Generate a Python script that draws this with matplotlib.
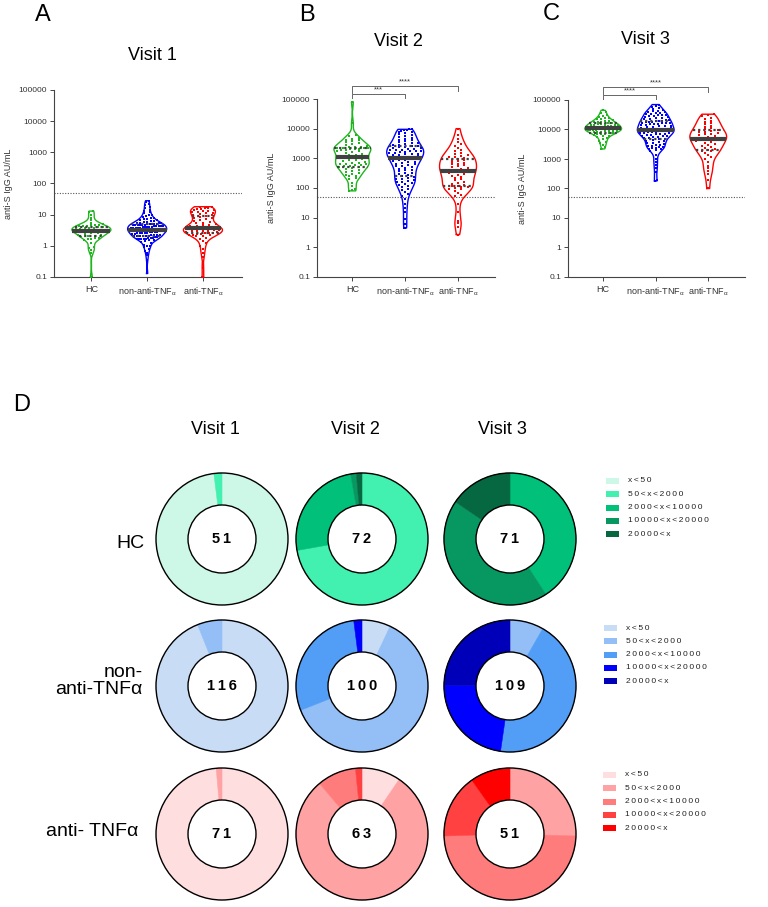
import numpy as np
import matplotlib
matplotlib.use('Agg')
import matplotlib.pyplot as plt
from matplotlib.patches import Rectangle, Circle

plt.rcParams['font.family'] = ['Liberation Sans', 'DejaVu Sans']
plt.rcParams['mathtext.fontset'] = 'custom'
plt.rcParams['mathtext.rm'] = 'Liberation Sans'
plt.rcParams['mathtext.it'] = 'Liberation Sans'

# ---------------- data ----------------
groups = ['HC', 'non-anti-TNFα', 'anti-TNFα']
tick_labels = ['HC', r'non-anti-TNF$_{\alpha}$', r'anti-TNF$_{\alpha}$']
visits = ['Visit 1', 'Visit 2', 'Visit 3']
y_ticks = [0.1, 1, 10, 100, 1000, 10000, 100000]
y_tick_labels = ['0.1', '1', '10', '100', '1000', '10000', '100000']
cutoff = 50

v1_hc = [0.10, 0.60, 0.75, 0.85, 0.95, 1.2, 1.5, 1.6, 1.7, 1.8, 1.8, 1.9, 2.0, 2.1, 2.2, 2.3, 2.4,
         2.5, 2.6, 2.7, 2.8, 2.9, 2.9, 3.0, 3.0, 3.0, 3.1, 3.1, 3.2, 3.3, 3.4, 3.5, 3.6, 3.7, 3.8,
         3.9, 4.0, 4.1, 4.2, 4.3, 4.4, 4.5, 4.6, 4.8, 5.0, 5.5, 6.5, 8.0, 10, 12, 13]
v1_non = [0.13, 0.35, 0.5, 0.6, 0.7, 0.8, 0.9, 1.0, 1.0, 1.1,
          1.2, 1.3, 1.4, 1.5, 1.5, 1.6, 1.6, 1.7, 1.7, 1.8, 1.8, 1.8, 1.9, 1.9, 2.0, 2.0, 2.0, 2.1, 2.1, 2.2,
          2.2, 2.3, 2.3, 2.4, 2.4, 2.5, 2.5, 2.6, 2.6, 2.7, 2.7, 2.8, 2.8, 2.9, 2.9, 3.0, 3.0, 3.0, 3.1, 3.1,
          3.2, 3.2, 3.3, 3.3, 3.4, 3.5, 3.5, 3.6, 3.7, 3.8, 3.9, 4.0, 4.1, 4.2, 4.3, 4.4, 4.5, 4.6, 4.7, 4.8,
          4.9, 5.0, 5.1, 5.2, 5.3, 5.4, 5.5, 5.6, 5.8, 6.0, 6.2, 6.4, 6.6, 6.8, 7.0, 7.3, 7.6, 8.0, 8.5, 9.0,
          9.5, 10, 11, 12, 13, 14, 16, 18, 20, 22, 25, 28,
          2.0, 2.5, 3.0, 3.3, 1.7, 4.0, 3.6, 3.8, 4.0, 4.2, 4.4, 4.6, 4.8, 5.0]
v1_anti = [0.1, 0.2, 0.45, 0.6, 0.8, 1.0, 1.2, 1.4, 1.6, 1.8,
           2.0, 2.1, 2.2, 2.3, 2.3, 2.4, 2.4, 2.5, 2.5, 2.6, 2.7, 2.8, 2.9, 3.0, 3.0, 3.1, 3.2, 3.3, 3.4, 3.5,
           3.5, 3.6, 3.6, 3.7, 3.8, 3.9, 4.0, 4.2, 4.4, 4.6, 4.8, 5.0, 5.3, 5.6, 6.0, 6.4, 6.8, 7.2, 7.6, 8.0,
           8.5, 9.0, 9.5, 10, 10.5, 11, 11.5, 12, 12.5, 13, 13.5, 14, 14.5, 15, 15.5, 16, 16.5, 17, 18, 18, 3.4]

v2_hc = [80, 85, 90, 120, 150, 200, 220, 250, 260, 280,
         300, 320, 350, 380, 400, 430, 460, 500, 520, 550,
         560, 580, 600, 620, 640, 660, 680, 700, 750, 800,
         850, 900, 950, 1000, 1000, 1050, 1100, 1150, 1200, 1250,
         1300, 1400, 1500, 1600, 1700, 1800, 1900, 1950, 2000, 2050,
         2100, 2150, 2200, 2250, 2300, 2350, 2400, 2500, 2600, 2800,
         3000, 3200, 3500, 3800, 4000, 4200, 4500, 5000, 5500, 6000,
         15000, 80000]
v2_non = [4.5, 6, 9, 15, 22, 30, 42,
          55, 65, 75, 85, 95, 105, 115, 125, 135, 145, 155, 165, 175, 185, 195, 205, 215, 230, 250, 270,
          290, 310, 330, 360, 390, 420, 450, 480, 510, 540, 570, 600, 630, 660, 700, 740, 780, 820, 860, 900,
          940, 980, 1020, 1060, 1100, 1150, 1200, 1250, 1300, 1350, 1400, 1450, 1500, 1550, 1600, 1650, 1700,
          1750, 1800, 1850, 1900, 1950,
          2000, 2100, 2200, 2300, 2400, 2500, 2600, 2700, 2800, 2900, 3000, 3200, 3400, 3600, 3800, 4000,
          4300, 4600, 5000, 5400, 5800, 6200, 6600, 7000, 7500, 8000, 8500, 9000, 9200, 9400, 9500]
v2_anti = [2.7, 5, 6.5, 8, 15, 30,
           55, 60, 70, 80, 90, 95, 100, 105, 110, 115, 120, 130, 140, 150, 165, 180, 200, 220, 240, 260,
           280, 300, 320, 340, 360, 380, 400, 420, 440, 470, 500, 540, 580, 620, 660, 700, 750, 800, 850, 900,
           950, 1000, 1100, 1150, 1200, 1300, 1400, 1500, 1700, 1900,
           2200, 2600, 3000, 3500, 4500, 6000, 10000]

v3_hc = [2200, 2600, 3000, 3400, 3800, 4200, 4600, 5000, 5400, 5800, 6200, 6500, 6800, 7000, 7200, 7400,
         7600, 7800, 8000, 8200, 8400, 8600, 8800, 9000, 9200, 9400, 9600, 9800, 9900,
         10000, 10200, 10400, 10600, 10800, 11000, 11200, 11400, 11600, 11800, 12000, 12300, 12600, 12900,
         13200, 13500, 13800, 14100, 14400, 14700, 15000, 15400, 15800, 16200, 16600, 17000, 17500, 18000,
         18500, 19000, 19500,
         21000, 22000, 23000, 24000, 25000, 27000, 29000, 32000, 36000, 40000, 45000]
v3_non = [180, 200, 350, 500, 650, 800, 1000, 1400, 1800,
          2000, 2100, 2200, 2300, 2400, 2500, 2600, 2700, 2800, 2900, 3000, 3200, 3400, 3600, 3800, 4000,
          4200, 4400, 4600, 4800, 5000, 5200, 5400, 5600, 5800, 6000, 6200, 6400, 6600, 6800, 7000, 7200,
          7400, 7600, 7800, 8000, 8200, 8400, 8600, 8800, 9000, 9200, 9400, 9500, 9600, 9700, 9800, 9900,
          10000, 10400, 10800, 11200, 11600, 12000, 12400, 12800, 13200, 13600, 14000, 14400, 14800, 15200,
          15600, 16000, 16400, 16800, 17200, 17600, 18000, 18400, 18800, 19200, 19600,
          20500, 21000, 22000, 23000, 24000, 25000, 26000, 27000, 28000, 29000, 30000, 31000, 32000, 33000,
          34000, 35000, 36000, 38000, 40000, 42000, 44000, 46000, 50000, 55000, 60000, 65000, 70000]
v3_anti = [100, 200, 300, 400, 500, 600, 800, 1000, 1200, 1400, 1600, 1800, 1900,
           2000, 2200, 2400, 2600, 2800, 3000, 3300, 3600, 3900, 4200, 4400, 4600, 4800, 5000, 5300, 5600,
           6000, 6400, 6800, 7200, 7600, 8000, 8500, 9000, 9500,
           10500, 11500, 12500, 13500, 15000, 16500, 18000, 19500,
           22000, 25000, 28000, 31000, 33000]

sig_v2 = ['***', '****']
sig_v3 = ['****', '****']

# donut data: counts per titre class, rows = groups, columns = visits
classes = ['x<50', '50<x<2000', '2000<x<10000', '10000<x<20000', '20000<x']
donut_hc = [[50, 1, 0, 0, 0], [0, 52, 18, 1, 1], [0, 0, 29, 31, 11]]
donut_non = [[109, 7, 0, 0, 0], [7, 62, 29, 2, 0], [0, 9, 48, 25, 27]]
donut_anti = [[70, 1, 0, 0, 0], [6, 50, 6, 1, 0], [0, 13, 25, 8, 5]]
row_labels = ['HC', 'non-\nanti-TNFα', 'anti- TNFα']

# ---------------- style ----------------
grp_colors = ['#1FB51F', '#0000FF', '#FF0000']
green_pal = ['#CDF7E6', '#42F0B0', '#00C07A', '#079862', '#056841']
blue_pal = ['#C8DCF6', '#93BFF6', '#529EF6', '#0000FF', '#0000B8']
red_pal = ['#FFDEE0', '#FFA2A3', '#FF7C7D', '#FF4142', '#FF0000']
dark = '#404040'
axc = '#444444'

W, H = 768, 907
fig = plt.figure(figsize=(W / 100, H / 100), dpi=100)


def ax_px(l, t, r, b):
    return fig.add_axes([l / W, 1 - b / H, (r - l) / W, (b - t) / H])


HW = 0.35


def violin(ax, x0, vals, color):
    ly = np.log10(np.asarray(vals, float))
    n = len(ly)
    bw = 0.6 * 1.06 * ly.std() * n ** -0.2
    g = np.linspace(ly.min(), ly.max(), 400)
    d = np.exp(-0.5 * ((g[:, None] - ly[None, :]) / bw) ** 2).sum(1)
    half = d / d.max() * HW
    xs = np.concatenate([x0 - half, (x0 + half)[::-1], [x0 - half[0]]])
    ys = np.concatenate([g, g[::-1], [g[0]]])
    ax.plot(xs, 10 ** ys, color=color, lw=1.0, zorder=2)
    # points arranged in rows spread across the violin width
    srt = np.sort(ly)
    BH = 0.09
    SP = 0.12
    bins = np.floor((srt - srt.min()) / BH).astype(int)
    px, py = [], []
    for b in np.unique(bins):
        yy = srt[bins == b]
        m = len(yy)
        w = np.interp(yy.mean(), g, half) * 0.85
        spread = min(w, (m - 1) * SP / 2)
        offs = np.linspace(-spread, spread, m) if m > 1 else np.array([0.0])
        px.extend(x0 + offs)
        py.extend(10 ** yy)
    ax.plot(px, py, 's', color=color, ms=2.1, mew=0, zorder=3)
    q1, med, q3 = np.percentile(ly, [25, 50, 75])
    for q in (q1, q3):
        hq = np.interp(q, g, half)
        ax.plot([x0 - hq, x0 + hq], [10 ** q] * 2, color=dark, lw=1.6,
                ls=(0, (1, 1.3)), zorder=4, solid_capstyle='butt')
    hm = np.interp(med, g, half)
    ax.plot([x0 - hm, x0 + hm], [10 ** med] * 2, color=dark, lw=3.0, zorder=5,
            solid_capstyle='butt')


def style_axes(ax):
    ax.set_yscale('log')
    ax.set_ylim(0.1, 100000)
    ax.set_xlim(-0.67, 2.7)
    ax.set_yticks(y_ticks)
    ax.set_yticklabels(y_tick_labels)
    ax.yaxis.set_minor_locator(matplotlib.ticker.NullLocator())
    ax.set_xticks([0, 1, 2])
    ax.set_xticklabels(tick_labels)
    for s in ('top', 'right'):
        ax.spines[s].set_visible(False)
    for s in ('left', 'bottom'):
        ax.spines[s].set_color(axc)
        ax.spines[s].set_linewidth(0.8)
    ax.tick_params(axis='both', direction='out', length=3, width=0.7, colors=axc,
                   labelsize=6, labelcolor='#333333', pad=2)
    ax.tick_params(axis='x', labelsize=6.5, pad=3)
    ax.set_ylabel('anti-S IgG AU/mL', fontsize=6.5, color='#333333', labelpad=4)
    ax.axhline(cutoff, color='#555555', lw=0.8, ls=(0, (1, 1.4)), zorder=1)


def bracket(ax, x1, x2, y, e1, e2, text):
    tr = ax.get_xaxis_transform()
    ax.plot([x1, x1, x2, x2], [e1, y, y, e2], transform=tr, color='#666666', lw=0.7,
            clip_on=False)
    ax.text((x1 + x2) / 2, y + 0.004, text, transform=tr, ha='center', va='bottom',
            fontsize=5.5, color='#333333')


panels = [
    ((54, 90, 242, 277), [v1_hc, v1_non, v1_anti], None, 'A', (43, 15), (152, 56)),
    ((317, 99, 495, 277), [v2_hc, v2_non, v2_anti], sig_v2, 'B', (307, 15), (398, 42)),
    ((568, 100, 745, 277), [v3_hc, v3_non, v3_anti], sig_v3, 'C', (551, 14), (645, 40)),
]
for i, (box, data, sig, letter, lpos, tpos) in enumerate(panels):
    ax = ax_px(*box)
    style_axes(ax)
    for k, (vals, col) in enumerate(zip(data, grp_colors)):
        violin(ax, k, vals, col)
    if sig is not None:
        bracket(ax, 0, 1, 1.03, 1.005, 1.005, sig[0])
        bracket(ax, 0, 2, 1.072, 1.035, 1.045, sig[1])
    fig.text(lpos[0] / W, 1 - lpos[1] / H, letter, fontsize=17, ha='center', va='center')
    fig.text(tpos[0] / W, 1 - tpos[1] / H, visits[i], fontsize=13, ha='center', va='center')

# ---------------- donuts ----------------
fig.text(22 / W, 1 - 405 / H, 'D', fontsize=17, ha='center', va='center')
cx_list = [222, 362, 510]
cy_list = [539, 686, 834]
head_x = [215, 355, 502]
for c in range(3):
    fig.text(head_x[c] / W, 1 - 430 / H, visits[c], fontsize=13, ha='center', va='center')

R = 66
all_counts = [donut_hc, donut_non, donut_anti]
pals = [green_pal, blue_pal, red_pal]
for r in range(3):
    for c in range(3):
        cx, cy = cx_list[c], cy_list[r]
        ax = ax_px(cx - 70, cy - 70, cx + 70, cy + 70)
        cnt = all_counts[r][c]
        vals = [v for v in cnt if v > 0]
        cols = [pals[r][k] for k, v in enumerate(cnt) if v > 0]
        wedges, _ = ax.pie(vals, colors=cols, startangle=90, counterclock=False, radius=1,
                           wedgeprops=dict(width=0.485, linewidth=0.4))
        for w, colr in zip(wedges, cols):
            w.set_edgecolor(colr)
        ax.add_patch(Circle((0, 0), 1, fill=False, ec='black', lw=1.0, zorder=5))
        ax.add_patch(Circle((0, 0), 0.515, fc='white', ec='black', lw=1.0, zorder=5))
        ax.text(0, 0, '\u2009'.join(str(sum(cnt))), ha='center', va='center',
                fontsize=10.5, fontweight='bold', zorder=6)
        ax.set_xlim(-70 / R, 70 / R)
        ax.set_ylim(-70 / R, 70 / R)
        ax.set_aspect('equal')
        ax.axis('off')

fig.text(145 / W, 1 - 543 / H, row_labels[0], fontsize=14, ha='right', va='center')
fig.text(143 / W, 1 - 681 / H, row_labels[1], fontsize=14, ha='right', va='center',
         multialignment='right', linespacing=1.0)
fig.text(138 / W, 1 - 831 / H, row_labels[2], fontsize=14, ha='right', va='center')

# legends
leg_y0 = [481, 628, 775]
leg_x = [606, 604, 603]
for r in range(3):
    for k, lab in enumerate(classes):
        y = leg_y0[r] + k * 13.3
        fig.patches.append(Rectangle(((leg_x[r]) / W, 1 - (y + 3) / H), 13 / W, 6 / H,
                                     transform=fig.transFigure, figure=fig,
                                     fc=pals[r][k], ec='none'))
        fig.text((leg_x[r] + 22) / W, 1 - y / H, '\u2009'.join(lab), fontsize=6,
                 ha='left', va='center', color='#222222')

fig.savefig('out.png', dpi=100)
